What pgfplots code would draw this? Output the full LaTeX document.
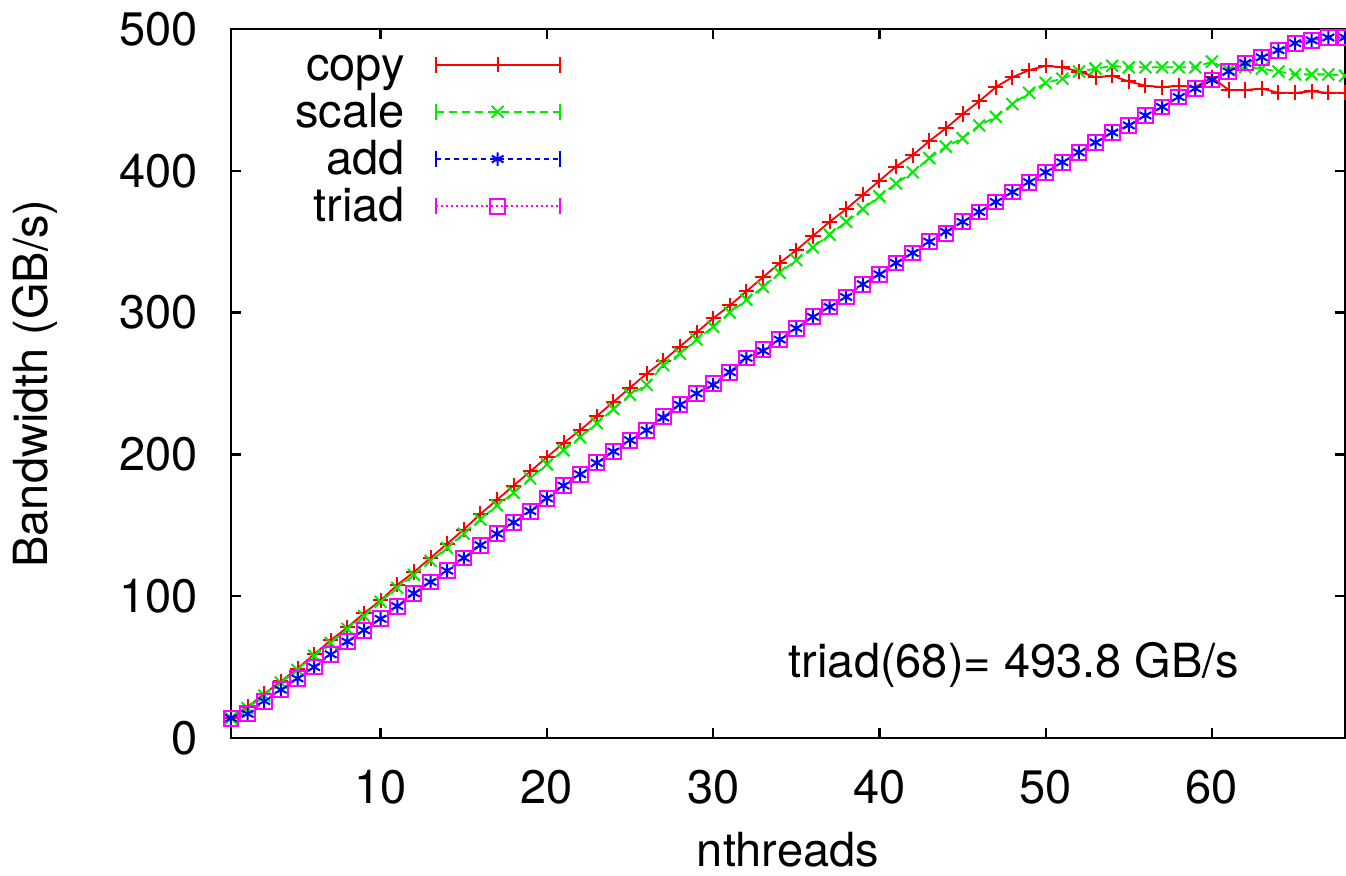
\documentclass[border=0pt]{standalone}
\usepackage{fontspec}
\setmainfont{TeX Gyre Heros}
\usepackage{pgfplots}
\pgfplotsset{compat=1.18}
\definecolor{gpred}{RGB}{255,0,0}
\definecolor{gpgreen}{RGB}{0,235,0}
\definecolor{gpblue}{RGB}{0,0,255}
\definecolor{gpmag}{RGB}{255,0,255}
\newcommand{\bigf}{\fontsize{23.5}{24}\selectfont}
\begin{document}
\begin{tikzpicture}
\useasboundingbox (-115.5pt,-69pt) rectangle (557.5pt,369pt);
\begin{axis}[
 at={(0pt,0pt)}, anchor=south west,
 scale only axis, width=557pt, height=354.5pt,
 xmin=1, xmax=68, ymin=0, ymax=500,
 xtick={10,20,...,60}, ytick={0,100,...,500},
 tick align=inside, major tick length=5pt,
 axis line style={line width=1.2pt},
 every tick/.style={black, line width=1.2pt},
 tick label style={font=\bigf, inner sep=0pt},
 /pgf/number format/assume math mode=true,
 yticklabel style={xshift=-16.5pt},
 xticklabel style={yshift=-16pt},
 xlabel={nthreads}, ylabel={Bandwidth (GB/s)},
 label style={font=\bigf},
 xlabel style={at={(axis description cs:0.5,-0.158)}, anchor=center},
 ylabel style={at={(axis description cs:-0.1759,0.5)}, anchor=center},
 legend plot pos=right, legend cell align=right,
 legend style={draw=none, fill=none, font=\bigf, at={(axis description cs:0.2962,0.982)}, anchor=north east,
   inner sep=0pt, row sep=1.1pt, column sep=13pt,
   cells={inner sep=0pt, text height=17pt, text depth=6.5pt}},
 legend image code/.code={
   \draw[mark repeat=2,mark phase=2,#1] plot coordinates {(0pt,0pt) (31pt,0pt) (62pt,0pt)};
   \draw[#1, solid, mark=none] (0pt,-4pt) -- (0pt,4pt) (62pt,-4pt) -- (62pt,4pt);
 },
 every axis plot/.append style={line width=0.9pt, mark options={solid, line width=1pt}},
]
\addplot[gpred, mark=+, mark size=3.8pt] coordinates {
(1,14)(2,22)(3,31)(4,40)(5,49)(6,59)(7,69)(8,78)(9,88)(10,97)
(11,108)(12,117)(13,127)(14,137)(15,147)(16,158)(17,168)(18,178)(19,188)(20,198)
(21,208)(22,217)(23,227)(24,237)(25,247)(26,257)(27,266)(28,276)(29,286)(30,296)
(31,305)(32,315)(33,325)(34,335)(35,344)(36,354)(37,364)(38,373)(39,383)(40,393)
(41,403)(42,411)(43,421)(44,430)(45,440)(46,449)(47,459)(48,466)(49,471)(50,474)
(51,473)(52,470)(53,466)(54,467)(55,463)(56,460)(57,459)(58,460)(59,459)(60,466)
(61,457)(62,457)(63,458)(64,455)(65,455)(66,456)(67,455)(68,455)};
\addlegendentry{copy}
\addplot[gpgreen, mark=x, mark size=4.2pt, dash pattern=on 4pt off 2.5pt] coordinates {
(1,14)(2,21)(3,30)(4,39)(5,48)(6,58)(7,67)(8,77)(9,86)(10,96)
(11,106)(12,115)(13,125)(14,134)(15,144)(16,154)(17,164)(18,173)(19,183)(20,193)
(21,203)(22,212)(23,222)(24,232)(25,242)(26,249)(27,263)(28,271)(29,281)(30,290)
(31,300)(32,309)(33,318)(34,328)(35,337)(36,346)(37,355)(38,364)(39,373)(40,382)
(41,391)(42,399)(43,409)(44,417)(45,423)(46,432)(47,438)(48,447)(49,455)(50,462)
(51,465)(52,470)(53,472)(54,474)(55,473)(56,473)(57,473)(58,473)(59,473)(60,477)
(61,471)(62,473)(63,472)(64,470)(65,468)(66,468)(67,468)(68,467)};
\addlegendentry{scale}
\addplot[gpblue, mark=asterisk, mark size=3.4pt, dash pattern=on 2.5pt off 2pt] coordinates {
(1,14)(2,17)(3,26)(4,34)(5,42)(6,50)(7,59)(8,68)(9,76)(10,84)
(11,93)(12,102)(13,110)(14,118)(15,127)(16,136)(17,144)(18,152)(19,160)(20,169)
(21,178)(22,186)(23,194)(24,202)(25,210)(26,217)(27,226)(28,235)(29,243)(30,249)
(31,258)(32,268)(33,273)(34,281)(35,289)(36,297)(37,304)(38,311)(39,320)(40,327)
(41,335)(42,342)(43,350)(44,357)(45,364)(46,371)(47,378)(48,385)(49,392)(50,399)
(51,406)(52,413)(53,420)(54,427)(55,432)(56,439)(57,445)(58,452)(59,458)(60,464)
(61,470)(62,476)(63,480)(64,485)(65,490)(66,492)(67,494)(68,494)};
\addlegendentry{add}
\addplot[gpmag, mark=square, mark size=3.7pt, dash pattern=on 1pt off 1.5pt] coordinates {
(1,14)(2,17)(3,26)(4,34)(5,42)(6,50)(7,59)(8,68)(9,76)(10,84)
(11,93)(12,102)(13,110)(14,118)(15,127)(16,136)(17,144)(18,152)(19,160)(20,169)
(21,178)(22,186)(23,194)(24,202)(25,210)(26,217)(27,227)(28,235)(29,243)(30,250)
(31,258)(32,268)(33,274)(34,281)(35,289)(36,297)(37,304)(38,311)(39,320)(40,327)
(41,335)(42,342)(43,350)(44,356)(45,364)(46,371)(47,378)(48,385)(49,392)(50,399)
(51,406)(52,413)(53,420)(54,427)(55,432)(56,439)(57,445)(58,452)(59,458)(60,464)
(61,470)(62,476)(63,480)(64,485)(65,490)(66,492)(67,494)(68,493.8)};
\addlegendentry{triad}
\node[font=\bigf, anchor=center] at (axis cs:48.1,51.5) {triad(68)= 493.8 GB/s};
\end{axis}
\end{tikzpicture}
\end{document}
